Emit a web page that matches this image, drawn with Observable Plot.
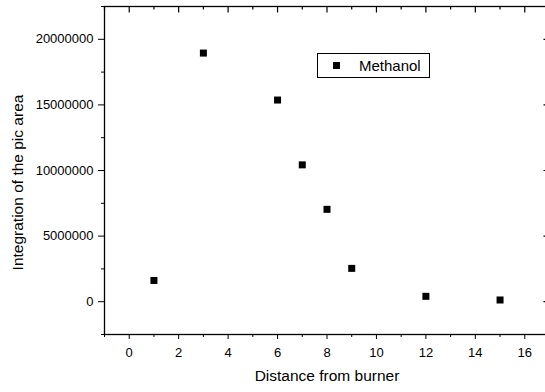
<!DOCTYPE html>
<html><head><meta charset="utf-8">
<script src="https://cdn.jsdelivr.net/npm/d3@7"></script>
<script src="https://cdn.jsdelivr.net/npm/@observablehq/plot@0.6"></script>
<style>
body{margin:0;background:#fff;}
#wrap{position:relative;width:545px;height:392px;overflow:hidden;font-family:"Liberation Sans",Arial,sans-serif;}
#legend{position:absolute;left:317px;top:53px;width:113px;height:25px;border:1px solid #000;background:#fff;box-sizing:border-box;}
#legend .sw{position:absolute;left:15px;top:8px;width:7px;height:7px;background:#000;}
#legend .lb{position:absolute;left:41px;top:3px;font-size:15px;line-height:17px;color:#000;}
</style></head>
<body>
<div id="wrap"><div id="legend"><div class="sw"></div><div class="lb">Methanol</div></div></div>
<script>
const distance = [1, 3, 6, 7, 8, 9, 12, 15];
const area = [1620000, 18950000, 15370000, 10430000, 7040000, 2540000, 410000, 130000];
const xMajorTicks = [0, 2, 4, 6, 8, 10, 12, 14, 16];
const xMinorTicks = [-1, 1, 3, 5, 7, 9, 11, 13, 15, 17];
const yMajorTicks = [0, 5000000, 10000000, 15000000, 20000000];
const yMinorTicks = [-2500000, 2500000, 7500000, 12500000, 17500000, 22500000];
const xDomain = [-1, 17];
const yDomain = [-2500000, 22500000];
const xTitle = "Distance from burner";
const yTitle = "Integration of the pic area";

const rows = distance.map((d, i) => ({distance: d, area: area[i]}));
const font = '"Liberation Sans", Arial, sans-serif';

const W = 545, H = 392, mL = 104, mR = -4, mT = 6, mB = 58;
const frameW = W - mL - mR, frameH = H - mT - mB;
// inward tick lengths converted from pixels to data units
const yPerPx = (yDomain[1] - yDomain[0]) / frameH;
const xPerPx = (xDomain[1] - xDomain[0]) / frameW;

const chart = Plot.plot({
  width: W, height: H,
  marginLeft: mL, marginRight: mR, marginTop: mT, marginBottom: mB,
  x: {domain: xDomain},
  y: {domain: yDomain},
  style: {fontFamily: font, fontSize: "13px", color: "#000", background: "#fff", overflow: "visible"},
  marks: [
    Plot.frame({stroke: "#000", strokeWidth: 1.3}),
    Plot.axisX(xMajorTicks, {anchor: "bottom", tickSize: 5, tickPadding: 8, label: null, tickFormat: d => String(d)}),
    Plot.axisX(xMinorTicks, {anchor: "bottom", tickSize: 3, text: null, label: null}),
    Plot.link(xMajorTicks, {x1: d => d, x2: d => d, y1: yDomain[1], y2: yDomain[1] - 6 * yPerPx, stroke: "#000", strokeWidth: 1.2}),
    Plot.link(xMinorTicks, {x1: d => d, x2: d => d, y1: yDomain[1], y2: yDomain[1] - 3 * yPerPx, stroke: "#000", strokeWidth: 1.2}),
    Plot.axisY(yMajorTicks, {anchor: "left", tickSize: 6, tickPadding: 5, label: null, tickFormat: d => String(d)}),
    Plot.axisY(yMinorTicks, {anchor: "left", tickSize: 3, text: null, label: null}),
    Plot.link(yMajorTicks, {y1: d => d, y2: d => d, x1: xDomain[1], x2: xDomain[1] - 6 * xPerPx, stroke: "#000", strokeWidth: 1.2}),
    Plot.link(yMinorTicks, {y1: d => d, y2: d => d, x1: xDomain[1], x2: xDomain[1] - 3 * xPerPx, stroke: "#000", strokeWidth: 1.2}),
    Plot.text([xTitle], {frameAnchor: "bottom", dy: 42, lineAnchor: "middle", textAnchor: "middle", fontSize: 15.5, fill: "#000"}),
    Plot.text([yTitle], {frameAnchor: "left", dx: -86, dy: 12, rotate: -90, textAnchor: "middle", lineAnchor: "middle", fontSize: 15.5, fill: "#000"}),
    Plot.dot(rows, {x: "distance", y: "area", symbol: "square", r: 3.95, fill: "#000", stroke: null})
  ]
});
document.getElementById("wrap").prepend(chart);
</script>
</body></html>
